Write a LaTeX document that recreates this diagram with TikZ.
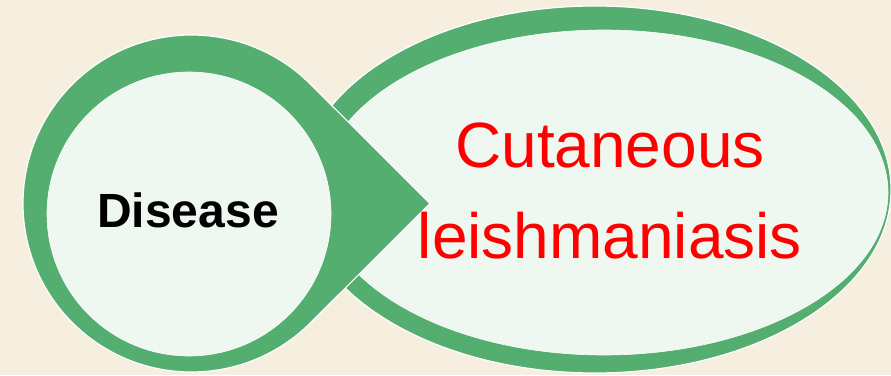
\documentclass[tikz,border=0pt]{standalone}
\usepackage{fontspec}
\setmainfont{Liberation Sans}
\definecolor{bgc}{RGB}{246,239,223}
\definecolor{ringgreen}{RGB}{84,174,111}
\definecolor{palefill}{RGB}{238,247,240}
\definecolor{txtred}{RGB}{255,0,0}
\begin{document}
\begin{tikzpicture}[x=1pt,y=1pt,
  ring/.style={fill=ringgreen,draw=white,line width=1.2pt},
  pale/.style={fill=palefill,draw=white!70!palefill,line width=0.6pt},
  bigtext/.style={text=txtred,font=\fontsize{64}{64}\selectfont,anchor=base,inner sep=0pt},
  labeltext/.style={text=black,font=\bfseries\fontsize{48}{48}\selectfont,anchor=base,inner sep=0pt}]
\fill[bgc] (0,0) rectangle (891,375);
\useasboundingbox (0,0) rectangle (891,375);
% right ellipse
\path[ring] (595,185.5) ellipse[x radius=296,y radius=183.5];
\path[pale] (604,182.5) ellipse[x radius=284,y radius=162.5];
% left teardrop
\path[ring] (430,171.5) -- (310.65,290.65) arc[start angle=45,end angle=315,radius=168.5] -- cycle;
\path[pale] (189,161) circle[radius=142];
% texts
\node[labeltext] (disease) at (188,147) {Disease};
\node[bigtext] (cut) at (610,207) {Cutaneous};
\node[bigtext] (leish) at (610,117) {leishmaniasis};
\end{tikzpicture}
\end{document}
